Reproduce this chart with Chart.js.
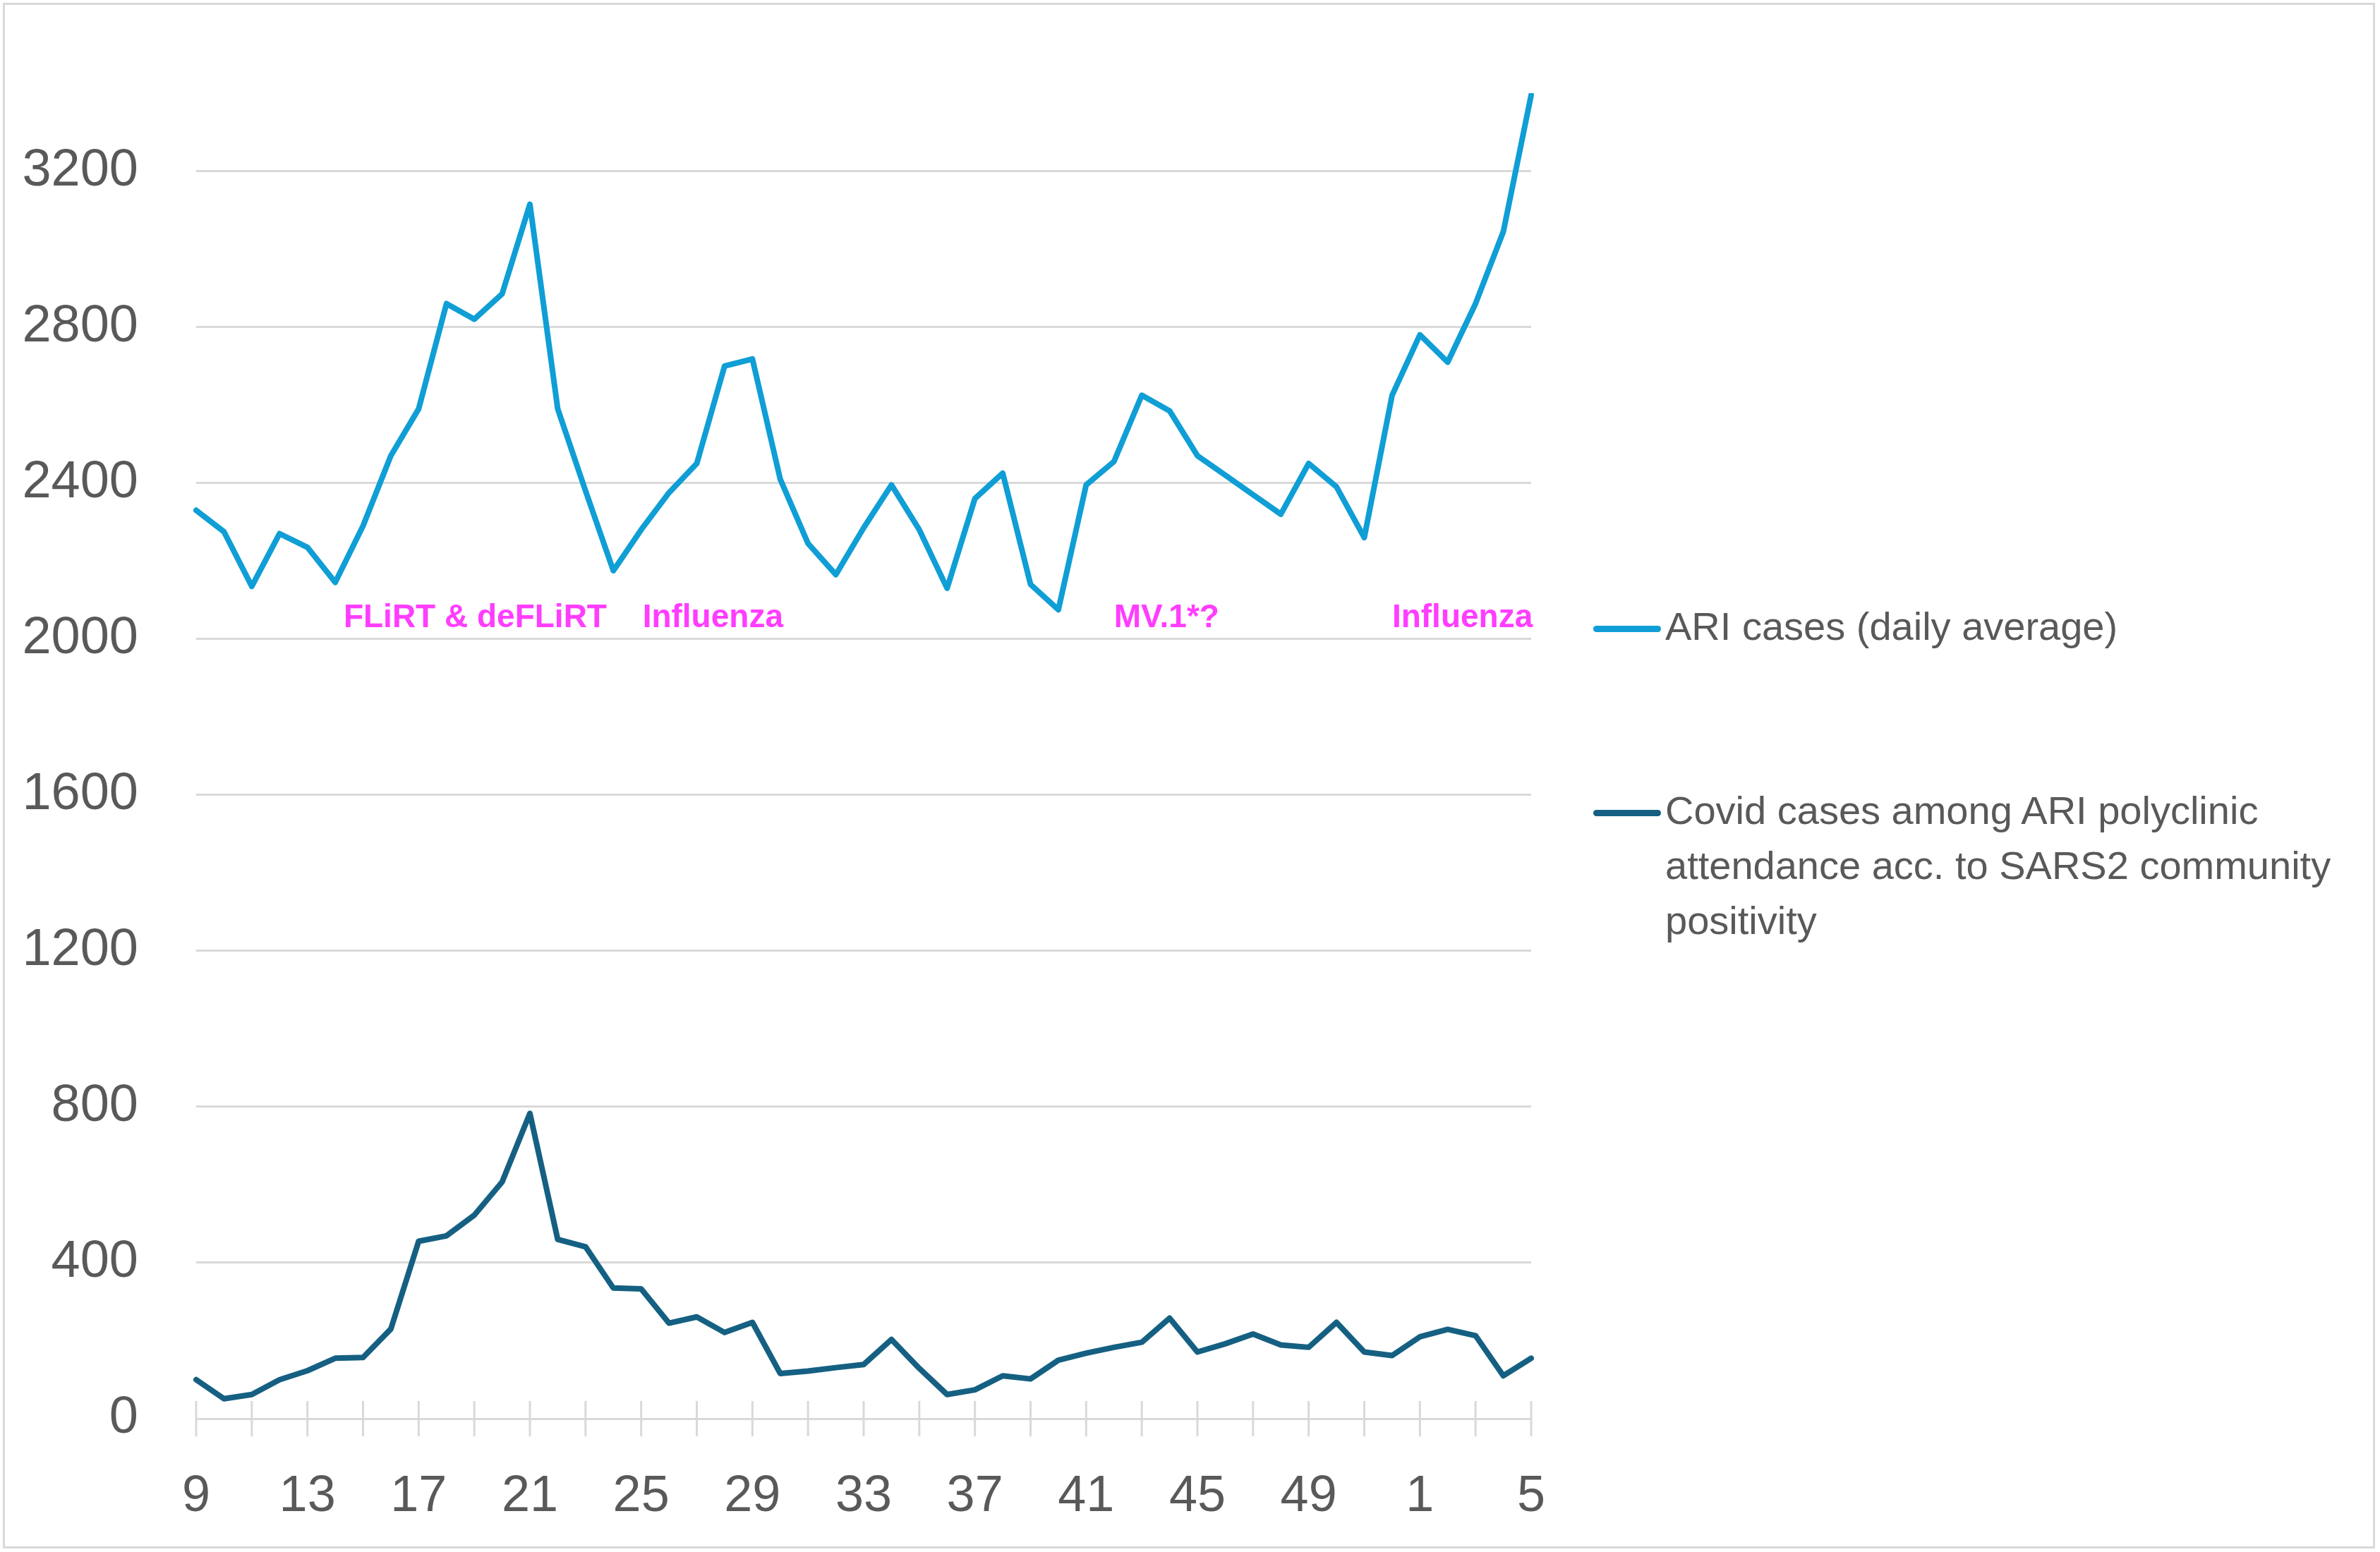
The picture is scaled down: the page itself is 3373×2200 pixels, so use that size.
<!DOCTYPE html>
<html>
<head>
<meta charset="utf-8">
<title>ARI and Covid cases by week</title>
<script src="https://cdn.jsdelivr.net/npm/chart.js@4.4.1/dist/chart.umd.min.js"></script>
<style>
    html, body { margin: 0; padding: 0; background: #ffffff; }
    #wrap { position: relative; width: 3373px; height: 2200px; }
    #chartCanvas { position: absolute; left: 0; top: 0; }
    #frame {
        position: absolute; left: 4px; top: 4px;
        width: 3356px; height: 2185px;
        border: 3px solid #d9d9d9; pointer-events: none;
    }
    .legend-item {
        position: absolute; left: 2258px;
        display: flex; align-items: flex-start;
        font-family: "Liberation Sans", Arial, sans-serif;
        font-size: 56px; line-height: 78px; color: #595959;
    }
    .legend-line { width: 96px; height: 9px; border-radius: 5px; margin-top: 38px; flex: none; }
    .legend-text { margin-left: 6px; max-width: 1000px; }
</style>
</head>
<body>
<div id="wrap">
    <canvas id="chartCanvas" width="3373" height="2200"></canvas>
    <div id="legend"></div>
    <div id="frame"></div>
</div>
<script>

// calendar weeks, 9 .. 52 then 1 .. 5 of the next year
const weeks = [
    9, 10, 11, 12, 13, 14, 15, 16, 17, 18, 19, 20, 21, 22, 23, 24,
    25, 26, 27, 28, 29, 30, 31, 32, 33, 34, 35, 36, 37, 38, 39, 40,
    41, 42, 43, 44, 45, 46, 47, 48, 49, 50, 51, 52, 1, 2, 3, 4, 5
];

const ariCases = [
    2330, 2275, 2135, 2270, 2235, 2145, 2290, 2470, 2590, 2860, 2820, 2885, 3115, 2590, 2380, 2175,
    2280, 2375, 2450, 2700, 2718, 2410, 2245, 2165, 2285, 2395, 2280, 2130, 2360, 2425, 2140, 2075,
    2395, 2455, 2625, 2585, 2470, 2420, 2370, 2320, 2450, 2390, 2260, 2625, 2780, 2710, 2860, 3045, 3395
];

const covidCases = [
    100, 51, 62, 100, 123, 155, 157, 230, 455, 469, 522, 607, 783, 460, 441, 335,
    333, 245, 261, 221, 247, 116, 122, 131, 139, 203, 129, 62, 74, 110, 102, 150,
    168, 183, 196, 258, 171, 192, 217, 189, 183, 247, 171, 162, 210, 229, 213, 110, 155
];

const seriesNames = [
    "ARI cases (daily average)",
    "Covid cases among ARI polyclinic attendance acc. to SARS2 community positivity"
];

const seriesColors = ["#0F9ED5", "#156082"];

const yMax = 3400;
const yStep = 400;

// magenta notes: text, week index where the text starts, value of its baseline
const noteTexts = ["FLiRT & deFLiRT", "Influenza", "MV.1*?", "Influenza"];
const noteStarts = [5.3, 16.05, 33, 43];
const noteLevel = 2030;

const labelColor = "#595959";
const gridColor = "#d9d9d9";
const fontFamily = "'Liberation Sans', Arial, sans-serif";

const crossTicks = {

    id: "crossTicks",

    beforeDatasetsDraw(chart) {

        const ctx = chart.ctx;
        const xScale = chart.scales.x;
        const y = chart.chartArea.bottom;

        ctx.save();
        ctx.strokeStyle = gridColor;
        ctx.lineWidth = 3;
        ctx.beginPath();

        for (let i = 0; i < weeks.length; i += 2) {
            const x = xScale.getPixelForTick(i);
            ctx.moveTo(x, y - 25);
            ctx.lineTo(x, y + 25);
        }

        ctx.stroke();
        ctx.restore();

    }

};

const variantNotes = {

    id: "variantNotes",

    afterDatasetsDraw(chart) {

        const ctx = chart.ctx;
        const xScale = chart.scales.x;
        const yScale = chart.scales.y;

        ctx.save();
        ctx.font = "bold 46px " + fontFamily;
        ctx.fillStyle = "#ff3dff";
        ctx.textAlign = "left";
        ctx.textBaseline = "alphabetic";

        noteTexts.forEach((text, i) => {
            ctx.fillText(
                text,
                xScale.getPixelForValue(noteStarts[i]),
                yScale.getPixelForValue(noteLevel)
            );
        });

        ctx.restore();

    }

};

// legend rows sit at fixed heights to the right of the plot
const legendTops = [849, 1110];

const htmlLegend = {

    id: "htmlLegend",

    afterUpdate(chart) {

        const box = document.getElementById("legend");
        box.innerHTML = "";

        chart.data.datasets.forEach((ds, i) => {

            const item = document.createElement("div");
            item.className = "legend-item";
            item.style.top = legendTops[i] + "px";

            const line = document.createElement("span");
            line.className = "legend-line";
            line.style.background = ds.borderColor;

            const text = document.createElement("span");
            text.className = "legend-text";
            text.textContent = ds.label;

            item.appendChild(line);
            item.appendChild(text);
            box.appendChild(item);

        });

    }

};

const ctx = document.getElementById("chartCanvas").getContext("2d");

new Chart(ctx, {

    type: "line",

    data: {

        labels: weeks,

        datasets: [
            {
                label: seriesNames[0],
                data: ariCases,
                borderColor: seriesColors[0],
                backgroundColor: seriesColors[0],
                borderWidth: 8,
                pointRadius: 0,
                borderJoinStyle: "round",
                borderCapStyle: "round",
                tension: 0
            },
            {
                label: seriesNames[1],
                data: covidCases,
                borderColor: seriesColors[1],
                backgroundColor: seriesColors[1],
                borderWidth: 8,
                pointRadius: 0,
                borderJoinStyle: "round",
                borderCapStyle: "round",
                tension: 0
            }
        ]

    },

    options: {

        responsive: false,
        animation: false,
        devicePixelRatio: 1,

        layout: {
            padding: { top: 132, right: 1203, bottom: 0, left: 0 }
        },

        plugins: {
            legend: { display: false },
            tooltip: { enabled: false }
        },

        scales: {

            x: {
                grid: { display: false },
                border: { display: false },
                ticks: {
                    autoSkip: false,
                    maxRotation: 0,
                    padding: 60,
                    color: labelColor,
                    font: { family: fontFamily, size: 72 },
                    callback(value, index) {
                        return index % 4 === 0 ? this.getLabelForValue(value) : "";
                    }
                },
                afterFit(scale) {
                    scale.height = 189;
                }
            },

            y: {
                min: 0,
                max: yMax,
                border: { display: false },
                grid: { color: gridColor, lineWidth: 3, drawTicks: false },
                ticks: {
                    stepSize: yStep,
                    includeBounds: false,
                    padding: 82,
                    color: labelColor,
                    font: { family: fontFamily, size: 74 },
                    callback(value) {
                        return String(value);
                    }
                },
                afterFit(scale) {
                    scale.width = 278;
                }
            }

        }

    },

    plugins: [crossTicks, variantNotes, htmlLegend]

});

</script>
</body>
</html>
